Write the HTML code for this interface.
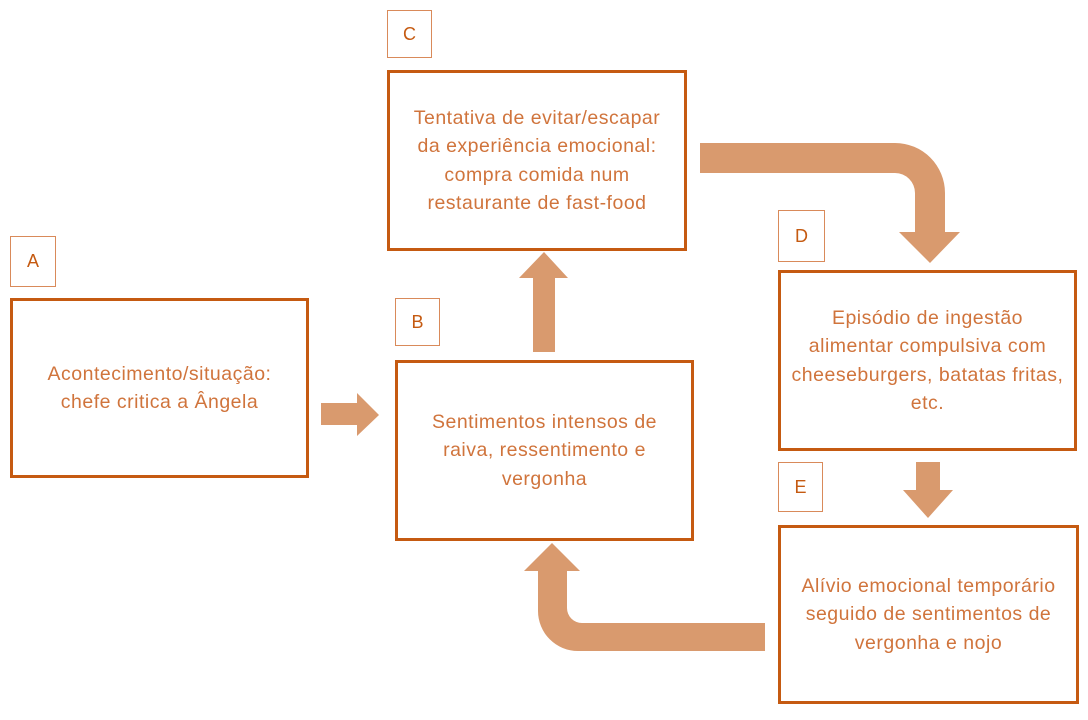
<!DOCTYPE html>
<html><head><meta charset="utf-8"><style>
body{margin:0;width:1088px;height:720px;background:#fff;position:relative;overflow:hidden;font-family:"Liberation Sans",sans-serif;}
.box{position:absolute;border:3px solid #c55a11;box-sizing:border-box;display:flex;align-items:center;justify-content:center;text-align:center;color:#d0743c;font-size:19.5px;line-height:28.5px;letter-spacing:0.5px;}
.lbl{position:absolute;border:1.5px solid #d98a5a;box-sizing:border-box;color:#c55a11;font-size:18px;display:flex;align-items:center;justify-content:center;}
svg{position:absolute;left:0;top:0;}
</style></head><body>
<svg width="1088" height="720">
<g fill="#d99a6e">
<polygon points="321,403 357,403 357,393 379,415 357,436 357,425 321,425"/>
<polygon points="533,352 555,352 555,278 568,278 544,252 519,278 533,278"/>
<path d="M700,143 L895,143 A50,50 0 0 1 945,193 L945,232 L960,232 L930,263 L899,232 L915,232 L915,193 A20,20 0 0 0 895,173 L700,173 Z"/>
<polygon points="916,462 940,462 940,490 953,490 928,518 903,490 916,490"/>
<path d="M765,623 L582,623 A15,15 0 0 1 567,608 L567,571 L580,571 L552,543 L524,571 L538,571 L538,611 A40,40 0 0 0 578,651 L765,651 Z"/>
</g>
</svg>
<div class="lbl" style="left:10px;top:236px;width:46px;height:51px;">A</div>
<div class="box" style="left:10px;top:298px;width:299px;height:180px;">Acontecimento/situação:<br>chefe critica a Ângela</div>
<div class="lbl" style="left:395px;top:298px;width:45px;height:48px;">B</div>
<div class="box" style="left:395px;top:360px;width:299px;height:181px;">Sentimentos intensos de<br>raiva, ressentimento e<br>vergonha</div>
<div class="lbl" style="left:387px;top:10px;width:45px;height:48px;">C</div>
<div class="box" style="left:387px;top:70px;width:300px;height:181px;">Tentativa de evitar/escapar<br>da experiência emocional:<br>compra comida num<br>restaurante de fast-food</div>
<div class="lbl" style="left:778px;top:210px;width:47px;height:52px;">D</div>
<div class="box" style="left:778px;top:270px;width:299px;height:181px;">Episódio de ingestão<br>alimentar compulsiva com<br>cheeseburgers, batatas fritas,<br>etc.</div>
<div class="lbl" style="left:778px;top:462px;width:45px;height:50px;">E</div>
<div class="box" style="left:778px;top:525px;width:301px;height:179px;">Alívio emocional temporário<br>seguido de sentimentos de<br>vergonha e nojo</div>
</body></html>
